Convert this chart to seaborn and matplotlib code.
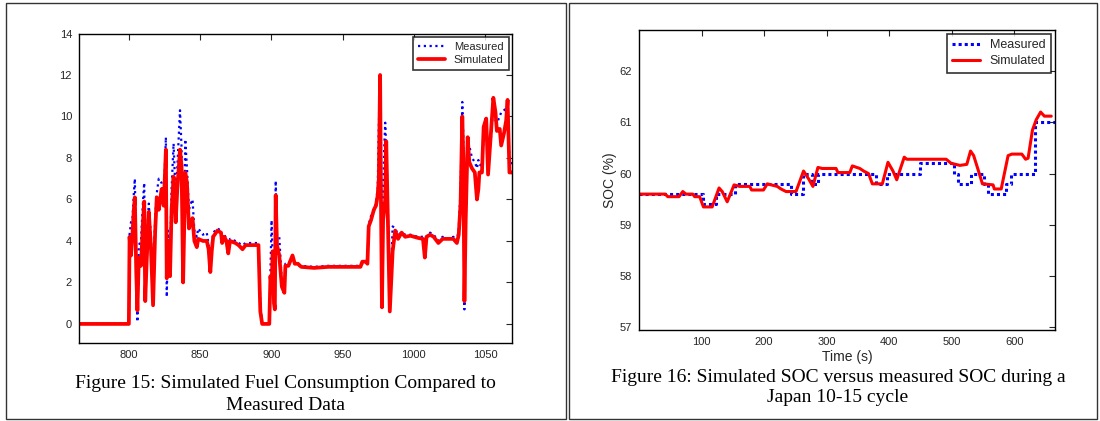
import matplotlib
matplotlib.use("Agg")
import matplotlib.pyplot as plt
import seaborn as sns
from matplotlib.patches import Rectangle

# Figure 15: fuel consumption (time in s)
fuel_time = [765, 800, 800.5, 801.5, 802.5, 803.5, 804.2, 805.2, 806, 807,
             808.5, 810, 810.8, 811.5, 812.5, 814, 815.5, 817, 818.5, 819.6,
             821, 823, 824.5, 826, 826.6, 827.5, 828.9, 830, 831.4, 832.9,
             834, 835.9, 837, 838.1, 839.6, 840.8, 842.2, 843.5, 844.7, 846,
             847.7, 848.7, 852, 854.7, 856, 857.2, 858.2, 859.2, 862.2, 864.7,
             865.5, 867, 868.5, 869.8, 871, 874.8, 877, 879.8, 882, 886,
             891, 892.3, 893.6, 898.6, 899.4, 900.2, 901, 901.9, 902.5, 903.1,
             904, 905.6, 907.4, 909.2, 909.9, 912, 913.7, 914.9, 916.5, 918.7,
             921, 930, 940, 950, 962.6, 963.9, 966.4, 967.5, 968.4, 970,
             972, 973.5, 974.7, 975.5, 976.4, 977, 977.7, 978.5, 979.3, 980,
             980.7, 981.7, 983.2, 985.2, 987, 989, 991.5, 994, 997.7, 1002.8,
             1006.5, 1007.8, 1009, 1011.5, 1014, 1017.3, 1020.3, 1024, 1027.8, 1030.3,
             1031.6, 1032.9, 1034.1, 1034.8, 1035.6, 1036.5, 1037.9, 1039, 1040.9, 1042.9,
             1044.4, 1045.4, 1046.1, 1047.9, 1049.1, 1050.9, 1052.2, 1054, 1055.9, 1057.4,
             1058.4, 1060.4, 1061.4, 1063.4, 1064.9, 1065.9, 1067.2, 1069]

fuel_measured = [0, 0, 4.3, 4.9, 5.0, 6.3, 7.0, 3.0, 0.1, 3.8,
                 4.0, 6.0, 6.8, 1.8, 4.0, 5.8, 4.2, 1.5, 5.2, 6.3,
                 7.0, 6.8, 6.0, 9.0, 1.3, 4.5, 3.0, 6.5, 8.7, 6.0,
                 7.5, 10.3, 8.5, 2.0, 8.9, 7.5, 5.5, 5.8, 6.0, 4.5,
                 4.2, 4.6, 4.3, 4.4, 3.8, 2.6, 3.8, 4.4, 4.6, 4.5,
                 4.1, 4.3, 4.1, 3.6, 4.1, 4.0, 3.9, 3.8, 3.9, 3.9,
                 3.9, 1.0, 0.0, 0.0, 2.5, 5.0, 3.0, 0.8, 1.5, 6.9,
                 4.2, 4.2, 2.0, 1.7, 2.9, 2.9, 3.1, 3.2, 2.9, 2.8,
                 2.8, 2.75, 2.8, 2.8, 2.8, 2.9, 3.0, 3.0, 4.8, 5.2,
                 5.4, 5.9, 6.5, 9.5, 11.8, 8.0, 1.0, 6.5, 8.5, 9.7,
                 8.5, 6.0, 0.8, 4.7, 4.6, 4.3, 4.4, 4.3, 4.3, 4.2,
                 4.2, 3.4, 4.2, 4.4, 4.3, 4.0, 4.2, 4.1, 4.2, 4.0,
                 4.6, 6.5, 10.7, 9.0, 0.7, 6.0, 8.3, 8.6, 8.0, 7.8,
                 7.5, 7.9, 7.7, 7.6, 9.0, 9.2, 8.6, 8.8, 10.5, 9.8,
                 9.7, 10.0, 10.2, 10.3, 10.4, 9.8, 8.1, 7.6]

fuel_simulated = [0, 0, 4.2, 3.3, 4.3, 5.5, 6.1, 2.5, 0.65, 3.2,
                  2.8, 5.0, 5.9, 1.1, 3.0, 5.4, 3.7, 0.9, 4.5, 6.1,
                  5.5, 6.5, 5.7, 8.4, 2.2, 4.0, 2.3, 5.5, 7.1, 4.9,
                  6.5, 8.4, 7.6, 2.0, 7.3, 6.8, 4.6, 4.9, 5.1, 4.0,
                  3.7, 4.1, 4.0, 4.0, 3.6, 2.5, 3.5, 4.2, 4.5, 4.4,
                  3.9, 4.2, 4.0, 3.4, 4.0, 3.9, 3.8, 3.6, 3.8, 3.8,
                  3.8, 0.6, 0.0, 0.0, 2.3, 1.8, 3.5, 1.0, 0.7, 6.2,
                  3.8, 3.3, 1.8, 1.5, 2.8, 2.8, 3.1, 3.3, 2.9, 2.9,
                  2.75, 2.7, 2.75, 2.75, 2.75, 3.0, 3.0, 2.9, 4.7, 5.0,
                  5.5, 5.7, 6.2, 7.0, 12.0, 6.0, 0.8, 5.0, 5.5, 6.0,
                  8.8, 5.5, 0.6, 3.5, 4.5, 4.1, 4.4, 4.2, 4.25, 4.15,
                  4.1, 3.2, 4.2, 4.3, 4.2, 3.9, 4.1, 4.1, 4.1, 3.9,
                  4.3, 5.8, 10.0, 8.0, 1.1, 5.0, 9.0, 7.8, 7.5, 7.3,
                  6.0, 6.5, 7.3, 7.3, 9.5, 9.9, 7.2, 9.0, 10.9, 10.2,
                  9.3, 9.4, 8.6, 9.2, 9.8, 10.8, 7.3, 7.3]

# Figure 16: SOC during Japan 10-15 cycle
soc_meas_time = [0, 102, 123, 153, 243, 262, 277, 286, 379, 396,
                 449, 504, 510, 531, 552, 558, 587, 595, 633, 665]
soc_measured = [59.6, 59.4, 59.6, 59.8, 59.6, 60.0, 59.8, 60.0, 59.8, 60.0,
                60.2, 60.0, 59.8, 60.0, 59.8, 59.6, 59.8, 60.0, 61.0, 61.0]

soc_sim_time = [1, 42, 46, 64, 70, 75, 86, 89, 97, 103,
                117, 128, 133, 141, 152, 161, 177, 180, 199, 205,
                221, 227, 235, 251, 263, 271, 278, 286, 293, 315,
                318, 337, 341, 353, 359, 367, 373, 389, 398, 406,
                412, 424, 428, 491, 499, 513, 524, 530, 535, 544,
                549, 566, 568, 579, 590, 596, 612, 618, 622, 629,
                635, 642, 648, 659]
soc_simulated = [59.6, 59.6, 59.55, 59.55, 59.65, 59.6, 59.6, 59.55, 59.55, 59.35,
                 59.35, 59.72, 59.65, 59.45, 59.78, 59.75, 59.75, 59.68, 59.68, 59.8,
                 59.75, 59.7, 59.65, 59.65, 60.05, 59.9, 59.75, 60.12, 60.1, 60.1,
                 60.02, 60.02, 60.15, 60.1, 60.05, 60.0, 59.8, 59.8, 60.22, 60.05,
                 59.88, 60.32, 60.28, 60.28, 60.2, 60.16, 60.18, 60.44, 60.35, 60.0,
                 59.8, 59.78, 59.7, 59.7, 60.35, 60.38, 60.38, 60.28, 60.3, 60.85,
                 61.05, 61.2, 61.12, 61.12]

sns.set_style("white")
plt.rcParams["font.family"] = ["Liberation Sans", "DejaVu Sans"]
plt.rcParams["xtick.direction"] = "in"
plt.rcParams["ytick.direction"] = "in"

fig = plt.figure(figsize=(11, 4.21), dpi=100)

# panel frames
fig.patches.append(Rectangle((6 / 1100, 2 / 421), 560 / 1100, 416 / 421, transform=fig.transFigure,
                             fill=False, edgecolor="#333333", linewidth=1.0))
fig.patches.append(Rectangle((569 / 1100, 2 / 421), 528 / 1100, 416 / 421, transform=fig.transFigure,
                             fill=False, edgecolor="#333333", linewidth=1.0))

ax1 = fig.add_axes([79 / 1100, 1 - 343 / 421, 433 / 1100, 309.5 / 421])
ax2 = fig.add_axes([639 / 1100, 1 - 330 / 421, 416 / 1100, 300 / 421])

sns.lineplot(x=fuel_time, y=fuel_measured, ax=ax1, color="#0000ff", linestyle=(0, (1, 1.6)),
             linewidth=1.6, estimator=None, sort=False, label="Measured")
sns.lineplot(x=fuel_time, y=fuel_simulated, ax=ax1, color="#ff0000", linewidth=2.7,
             estimator=None, sort=False, label="Simulated")
ax1.set_xlim(765, 1069)
ax1.set_ylim(-0.92, 14)
ax1.set_xticks([800, 850, 900, 950, 1000, 1050])
ax1.set_yticks(range(0, 15, 2))

sns.lineplot(x=soc_meas_time, y=soc_measured, ax=ax2, color="#0000ff", linestyle=(0, (1, 1)),
             linewidth=2.2, estimator=None, sort=False, drawstyle="steps-post", label="Measured")
sns.lineplot(x=soc_sim_time, y=soc_simulated, ax=ax2, color="#ff0000", linewidth=2.2,
             estimator=None, sort=False, label="Simulated")
ax2.set_xlim(0, 665)
ax2.set_ylim(56.95, 62.8)
ax2.set_xticks([100, 200, 300, 400, 500, 600])
ax2.set_yticks([57, 58, 59, 60, 61, 62])
ax2.set_xlabel("Time (s)", fontsize=10, labelpad=2)
ax2.set_ylabel("SOC (%)", fontsize=10, labelpad=2)

for ax, fs, hl in ((ax1, 8, 2.4), (ax2, 9, 2.2)):
    for s in ax.spines.values():
        s.set_visible(True)
        s.set_color("black")
        s.set_linewidth(1.0)
    ax.tick_params(axis="both", which="both", labelsize=8, length=4, width=0.8,
                   top=True, right=True, direction="in", pad=5)
    leg = ax.legend(loc="upper right", fontsize=fs, frameon=True, fancybox=False,
                    edgecolor="black", borderpad=0.45, handlelength=hl, handletextpad=0.8,
                    labelspacing=0.3, borderaxespad=0.3)
    leg.get_frame().set_linewidth(1.2)

serif = ["Liberation Serif", "DejaVu Serif"]
fig.text(285 / 1100, 1 - 383 / 421, "Figure 15: Simulated Fuel Consumption Compared to",
         ha="center", va="center", fontsize=14, family=serif, color="black")
fig.text(285 / 1100, 1 - 405 / 421, "Measured Data",
         ha="center", va="center", fontsize=14, family=serif, color="black")
fig.text(838 / 1100, 1 - 377 / 421, "Figure 16: Simulated SOC versus measured SOC during a",
         ha="center", va="center", fontsize=14, family=serif, color="black")
fig.text(838 / 1100, 1 - 398 / 421, "Japan 10-15 cycle",
         ha="center", va="center", fontsize=14, family=serif, color="black")

fig.savefig("out.png", dpi=100)
